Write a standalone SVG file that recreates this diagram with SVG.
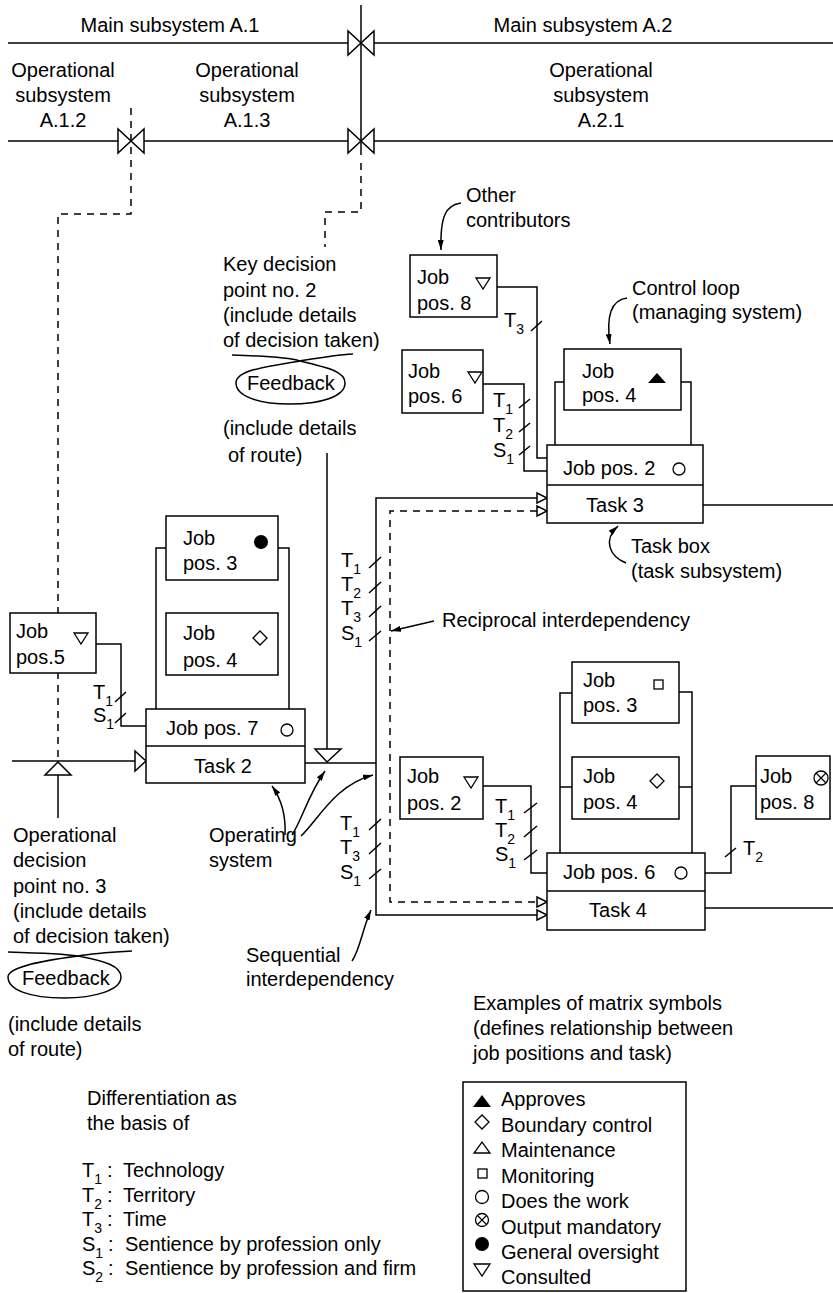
<svg xmlns="http://www.w3.org/2000/svg" width="833" height="1293" viewBox="0 0 833 1293">
<defs>
<style>
.t{font-family:"Liberation Sans",Arial,Helvetica,sans-serif;font-size:20px;fill:#000}
.s{font-size:14px}
.m{text-anchor:middle}
.ln{fill:none;stroke:#000;stroke-width:1.5}
.d{stroke-dasharray:7 6}
.box{fill:#fff;stroke:#000;stroke-width:1.5}
.open{fill:#fff;stroke:#000;stroke-width:1.5}
.blk{fill:#000;stroke:none}
.sym{fill:#fff;stroke:#000;stroke-width:1.3}
</style>
<marker id="ah" viewBox="0 0 10 6" refX="10" refY="3" markerWidth="10" markerHeight="6" markerUnits="userSpaceOnUse" orient="auto">
<path d="M0,0 L10,3 L0,6 Z" fill="#000"/>
</marker>
<g id="bow"><polygon class="open" points="-13,-12 -13,12 0,0"/><polygon class="open" points="13,-12 13,12 0,0"/></g>
</defs>
<rect width="833" height="1293" fill="#fff"/>

<g id="connectors">
<!-- subsystem boundaries -->
<line class="ln" x1="8" y1="43" x2="833" y2="43"/>
<line class="ln" x1="8" y1="141" x2="833" y2="141"/>
<line class="ln" x1="361" y1="5" x2="361" y2="155"/>
<path class="ln d" d="M131,108 V214 H58 V762"/>
<path class="ln d" d="M361,163 V212 H325 V247"/>
<use href="#bow" x="361" y="43"/>
<use href="#bow" x="131" y="141"/>
<use href="#bow" x="361" y="141"/>
<!-- upper right cluster -->
<polyline class="ln" points="497,287 537,287 537,458 547,458"/>
<polyline class="ln" points="483,384 524,384 524,471 547,471"/>
<polyline class="ln" points="564,382 555,382 555,445"/>
<polyline class="ln" points="681,382 691,382 691,445"/>
<line class="ln" x1="703" y1="505" x2="833" y2="505"/>
<!-- interdependency lines -->
<path class="ln" d="M537,498 H376 V915 H537"/>
<path class="ln d" d="M537,511 H390 V902 H537"/>
<polygon class="open" points="537,493 547,498 537,503"/>
<polygon class="open" points="537,506 547,511 537,516"/>
<polygon class="open" points="537,897 547,902 537,907"/>
<polygon class="open" points="537,910 547,915 537,920"/>
<!-- left cluster -->
<polyline class="ln" points="166,548 156,548 156,709"/>
<polyline class="ln" points="278,548 289,548 289,709"/>
<polyline class="ln" points="96,644 121,644 121,726 146,726"/>
<line class="ln" x1="12" y1="761" x2="135" y2="761"/>
<polygon class="open" points="135,751 146,761 135,771"/>
<line class="ln" x1="305" y1="763" x2="376" y2="763"/>
<line class="ln" x1="327" y1="453" x2="327" y2="749"/>
<polygon class="open" points="315,749 341,749 327,762"/>
<polygon class="open" points="58,762 45,775 71,775"/>
<line class="ln" x1="58" y1="775" x2="58" y2="818"/>
<!-- lower right cluster -->
<polyline class="ln" points="483,786 531,786 531,873 547,873"/>
<polyline class="ln" points="572,693 560,693 560,853"/>
<polyline class="ln" points="679,692 692,692 692,853"/>
<line class="ln" x1="560" y1="787" x2="572" y2="787"/>
<line class="ln" x1="679" y1="787" x2="692" y2="787"/>
<polyline class="ln" points="756,786 731,786 731,873 705,873"/>
<line class="ln" x1="705" y1="908" x2="833" y2="908"/>
<!-- ticks -->
<g class="ln">
<line x1="531" y1="331" x2="542" y2="321"/>
<line x1="519" y1="408" x2="530" y2="399"/>
<line x1="519" y1="432" x2="530" y2="423"/>
<line x1="519" y1="455" x2="530" y2="446"/>
<line x1="369" y1="568" x2="381" y2="557"/>
<line x1="369" y1="593" x2="381" y2="582"/>
<line x1="369" y1="617" x2="381" y2="606"/>
<line x1="369" y1="641" x2="381" y2="631"/>
<line x1="115" y1="702" x2="126" y2="692"/>
<line x1="115" y1="723" x2="126" y2="713"/>
<line x1="369" y1="830" x2="381" y2="819"/>
<line x1="369" y1="854" x2="381" y2="843"/>
<line x1="369" y1="879" x2="381" y2="869"/>
<line x1="524" y1="813" x2="537" y2="803"/>
<line x1="524" y1="837" x2="537" y2="826"/>
<line x1="524" y1="860" x2="537" y2="850"/>
<line x1="725" y1="857" x2="736" y2="848"/>
</g>
<!-- annotation arrows -->
<path class="ln" d="M461,203 C446,205 440,216 441,250" marker-end="url(#ah)"/>
<path class="ln" d="M627,298 C611,300 606,316 610,344" marker-end="url(#ah)"/>
<path class="ln" d="M626,563 C609,556 603,540 618,526" marker-end="url(#ah)"/>
<path class="ln" d="M434,621 L391,631" marker-end="url(#ah)"/>
<path class="ln" d="M285,835 C286,815 282,800 272,786" marker-end="url(#ah)"/>
<path class="ln" d="M292,835 C302,820 308,795 325,771" marker-end="url(#ah)"/>
<path class="ln" d="M301,836 C318,820 335,785 373,775" marker-end="url(#ah)"/>
<path class="ln" d="M352,961 C360,950 362,930 371,910" marker-end="url(#ah)"/>
<!-- feedback loops -->
<path class="ln" d="M232,355 C265,356 290,358 300,361 C330,368 345,372 345,383 C345,397 320,404 290,404 C258,404 236,396 236,383 C236,371 262,367 300,361 C318,358 335,355 353,354"/>
<path class="ln" d="M8,952 C40,953 65,954 78,956 C105,961 121,966 121,977 C121,990 95,998 64,998 C30,998 8,990 8,977 C8,967 40,961 78,956 C95,953 115,952 132,951"/>
</g>

<g id="job8top">
<rect class="box" x="410" y="255" width="87" height="62"/>
<text class="t" x="417" y="284">Job</text><text class="t" x="417" y="310">pos. 8</text>
<polygon class="sym" points="476,278 490,278 483,289"/>
</g>
<g id="job6top">
<rect class="box" x="402" y="350" width="81" height="63"/>
<text class="t" x="408" y="378">Job</text><text class="t" x="408" y="403">pos. 6</text>
<polygon class="sym" points="468,372 482,372 475,383"/>
</g>
<g id="job4top">
<rect class="box" x="564" y="349" width="117" height="61"/>
<text class="t" x="582" y="378">Job</text><text class="t" x="582" y="402">pos. 4</text>
<polygon class="blk" points="648,383 666,383 657,373"/>
</g>
<g id="task3">
<rect class="box" x="547" y="445" width="156" height="78"/>
<line class="ln" x1="547" y1="485" x2="703" y2="485"/>
<text class="t" x="563" y="475">Job pos. 2</text>
<circle class="sym" cx="679" cy="469" r="6"/>
<text class="t m" x="615" y="512">Task 3</text>
</g>
<g id="job3left">
<rect class="box" x="166" y="516" width="112" height="64"/>
<text class="t" x="183" y="545">Job</text><text class="t" x="183" y="570">pos. 3</text>
<circle class="blk" cx="261" cy="542" r="7"/>
</g>
<g id="job4left">
<rect class="box" x="166" y="613" width="112" height="62"/>
<text class="t" x="183" y="640">Job</text><text class="t" x="183" y="667">pos. 4</text>
<polygon class="sym" points="260,631 267,638 260,645 253,638"/>
</g>
<g id="job5">
<rect class="box" x="10" y="613" width="86" height="60"/>
<text class="t" x="16" y="638">Job</text><text class="t" x="16" y="664">pos.5</text>
<polygon class="sym" points="74,633 88,633 81,644"/>
</g>
<g id="task2">
<rect class="box" x="146" y="709" width="159" height="74"/>
<line class="ln" x1="146" y1="746" x2="305" y2="746"/>
<text class="t" x="166" y="735">Job pos. 7</text>
<circle class="sym" cx="287" cy="730" r="6"/>
<text class="t m" x="223" y="773">Task 2</text>
</g>
<g id="job2low">
<rect class="box" x="400" y="757" width="83" height="62"/>
<text class="t" x="407" y="783">Job</text><text class="t" x="407" y="810">pos. 2</text>
<polygon class="sym" points="464,777 478,777 471,788"/>
</g>
<g id="job3low">
<rect class="box" x="572" y="662" width="107" height="61"/>
<text class="t" x="583" y="687">Job</text><text class="t" x="583" y="712">pos. 3</text>
<rect class="sym" x="654" y="680" width="9" height="9"/>
</g>
<g id="job4low">
<rect class="box" x="572" y="757" width="107" height="62"/>
<text class="t" x="583" y="783">Job</text><text class="t" x="583" y="809">pos. 4</text>
<polygon class="sym" points="657,774 664,781 657,788 650,781"/>
</g>
<g id="job8low">
<rect class="box" x="756" y="756" width="74" height="63"/>
<text class="t" x="760" y="783">Job</text><text class="t" x="760" y="809">pos. 8</text>
<circle class="sym" cx="821" cy="778" r="7"/>
<path class="ln" d="M816,773 L826,783 M826,773 L816,783" style="stroke-width:1.2"/>
</g>
<g id="task4">
<rect class="box" x="547" y="853" width="158" height="77"/>
<line class="ln" x1="547" y1="891" x2="705" y2="891"/>
<text class="t" x="563" y="879">Job pos. 6</text>
<circle class="sym" cx="681" cy="873" r="6"/>
<text class="t m" x="618" y="917">Task 4</text>
</g>

<g id="labels">
<text class="t m" x="170" y="32">Main subsystem A.1</text>
<text class="t m" x="583" y="32">Main subsystem A.2</text>
<text class="t m" x="63" y="77">Operational<tspan x="63" y="102">subsystem</tspan><tspan x="63" y="127">A.1.2</tspan></text>
<text class="t m" x="247" y="77">Operational<tspan x="247" y="102">subsystem</tspan><tspan x="247" y="127">A.1.3</tspan></text>
<text class="t m" x="601" y="77">Operational<tspan x="601" y="102">subsystem</tspan><tspan x="601" y="127">A.2.1</tspan></text>
<text class="t" x="223" y="271">Key decision<tspan x="223" y="297">point no. 2</tspan><tspan x="223" y="322">(include details</tspan><tspan x="223" y="347">of decision taken)</tspan></text>
<text class="t" x="247" y="390">Feedback</text>
<text class="t" x="223" y="435">(include details<tspan x="228" y="462">of route)</tspan></text>
<text class="t" x="466" y="202">Other<tspan x="466" y="227">contributors</tspan></text>
<text class="t" x="632" y="295">Control loop<tspan x="632" y="319">(managing system)</tspan></text>
<text class="t" x="631" y="553">Task box<tspan x="631" y="578">(task subsystem)</tspan></text>
<text class="t" x="442" y="627">Reciprocal interdependency</text>
<text class="t" x="13" y="842">Operational<tspan x="13" y="867">decision</tspan><tspan x="13" y="893">point no. 3</tspan><tspan x="13" y="918">(include details</tspan><tspan x="13" y="943">of decision taken)</tspan></text>
<text class="t" x="22" y="985">Feedback</text>
<text class="t" x="8" y="1031">(include details<tspan x="8" y="1056">of route)</tspan></text>
<text class="t" x="209" y="842">Operating<tspan x="209" y="867">system</tspan></text>
<text class="t" x="246" y="962">Sequential<tspan x="246" y="986">interdependency</tspan></text>
<text class="t" x="473" y="1010">Examples of matrix symbols<tspan x="473" y="1035">(defines relationship between</tspan><tspan x="473" y="1060">job positions and task)</tspan></text>
<text class="t" x="87" y="1105">Differentiation as<tspan x="87" y="1130">the basis of</tspan></text>
<!-- T/S labels -->
<text class="t" x="504" y="327">T<tspan class="s" dy="7">3</tspan></text>
<text class="t" x="493" y="407">T<tspan class="s" dy="7">1</tspan></text>
<text class="t" x="493" y="432">T<tspan class="s" dy="7">2</tspan></text>
<text class="t" x="493" y="457">S<tspan class="s" dy="7">1</tspan></text>
<text class="t" x="341" y="567">T<tspan class="s" dy="7">1</tspan></text>
<text class="t" x="341" y="591">T<tspan class="s" dy="7">2</tspan></text>
<text class="t" x="341" y="615">T<tspan class="s" dy="7">3</tspan></text>
<text class="t" x="341" y="640">S<tspan class="s" dy="7">1</tspan></text>
<text class="t" x="93" y="699">T<tspan class="s" dy="7">1</tspan></text>
<text class="t" x="93" y="722">S<tspan class="s" dy="7">1</tspan></text>
<text class="t" x="340" y="830">T<tspan class="s" dy="7">1</tspan></text>
<text class="t" x="340" y="854">T<tspan class="s" dy="7">3</tspan></text>
<text class="t" x="340" y="879">S<tspan class="s" dy="7">1</tspan></text>
<text class="t" x="495" y="813">T<tspan class="s" dy="7">1</tspan></text>
<text class="t" x="495" y="837">T<tspan class="s" dy="7">2</tspan></text>
<text class="t" x="495" y="861">S<tspan class="s" dy="7">1</tspan></text>
<text class="t" x="743" y="855">T<tspan class="s" dy="7">2</tspan></text>
</g>

<g id="differentiation-key">
<text class="t" x="82" y="1177">T<tspan class="s" dy="7">1</tspan></text><text class="t" x="107" y="1177">:</text><text class="t" x="123" y="1177">Technology</text>
<text class="t" x="82" y="1202">T<tspan class="s" dy="7">2</tspan></text><text class="t" x="107" y="1202">:</text><text class="t" x="123" y="1202">Territory</text>
<text class="t" x="82" y="1226">T<tspan class="s" dy="7">3</tspan></text><text class="t" x="107" y="1226">:</text><text class="t" x="123" y="1226">Time</text>
<text class="t" x="82" y="1251">S<tspan class="s" dy="7">1</tspan></text><text class="t" x="108" y="1251">:</text><text class="t" x="125" y="1251">Sentience by profession only</text>
<text class="t" x="82" y="1275">S<tspan class="s" dy="7">2</tspan></text><text class="t" x="108" y="1275">:</text><text class="t" x="125" y="1275">Sentience by profession and firm</text>
</g>

<g id="legend">
<rect class="box" x="463" y="1082" width="223" height="209"/>
<polygon class="blk" points="473,1107 491,1107 482,1095"/>
<text class="t" x="501" y="1106">Approves</text>
<polygon class="sym" points="482,1115 489,1122 482,1129 475,1122"/>
<text class="t" x="501" y="1132">Boundary control</text>
<polygon class="sym" points="474,1153 490,1153 482,1142"/>
<text class="t" x="501" y="1157">Maintenance</text>
<rect class="sym" x="478" y="1169" width="9" height="9"/>
<text class="t" x="501" y="1183">Monitoring</text>
<circle class="sym" cx="482" cy="1197" r="6.5"/>
<text class="t" x="501" y="1208">Does the work</text>
<circle class="sym" cx="482" cy="1220" r="6.5"/>
<path class="ln" d="M477.5,1215.5 L486.5,1224.5 M486.5,1215.5 L477.5,1224.5" style="stroke-width:1.2"/>
<text class="t" x="501" y="1234">Output mandatory</text>
<circle class="blk" cx="482" cy="1244" r="7"/>
<text class="t" x="501" y="1259">General oversight</text>
<polygon class="sym" points="474,1264 490,1264 482,1276"/>
<text class="t" x="501" y="1284">Consulted</text>
</g>
</svg>
